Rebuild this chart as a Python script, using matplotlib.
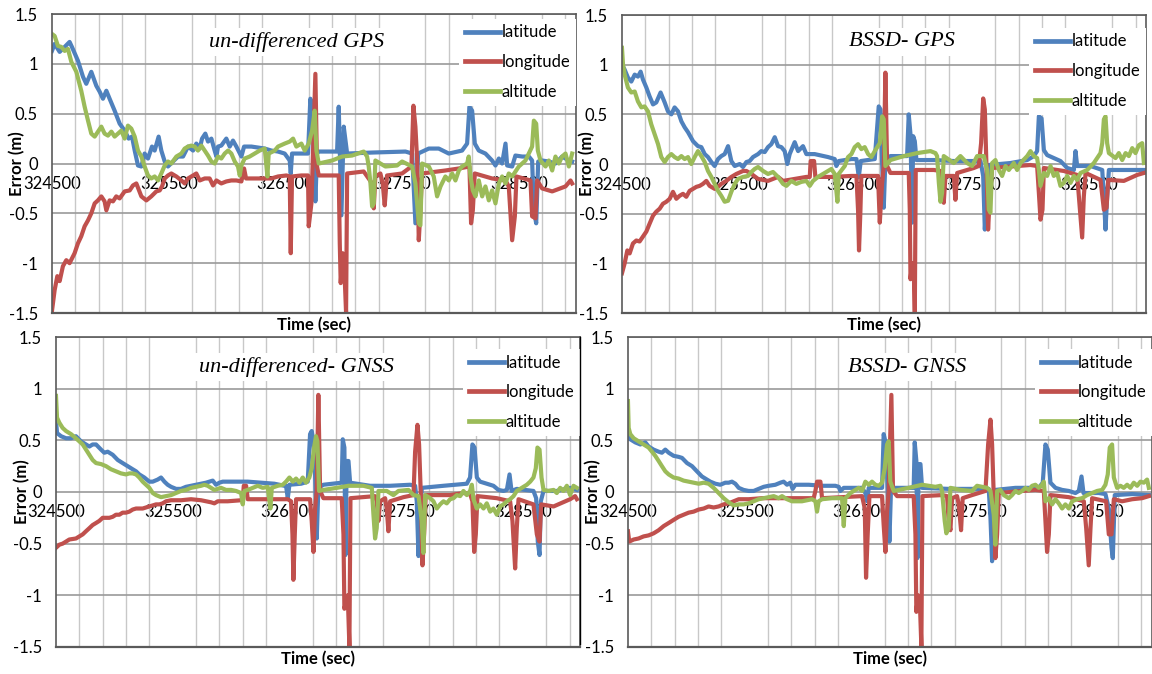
import numpy as np
import matplotlib.pyplot as plt
from matplotlib.lines import Line2D

plt.rcParams['font.family'] = ['Lato', 'DejaVu Sans']
plt.rcParams['axes.unicode_minus'] = False

# (time [s], error [m]) pairs

# un-differenced GPS
ug_lat = [(324500, 1.13), (324523, 1.20), (324566, 1.12), (324609, 1.17), (324651, 1.22), (324671, 1.17),
          (324723, 1.03), (324766, 0.87), (324794, 0.80), (324837, 0.92), (324880, 0.78), (324909, 0.72),
          (324937, 0.65), (324966, 0.73), (324994, 0.65), (325037, 0.53), (325080, 0.40), (325123, 0.33),
          (325157, 0.25), (325186, 0.27), (325209, 0.13), (325237, -0.02), (325266, -0.03), (325294, 0.10),
          (325323, 0.05), (325357, 0.17), (325380, 0.13), (325414, 0.27), (325437, 0.13), (325466, 0.02),
          (325494, -0.03), (325537, 0.02), (325580, 0.07), (325623, 0.07), (325666, 0.17), (325709, 0.13),
          (325737, 0.20), (325766, 0.15), (325786, 0.25), (325814, 0.30), (325837, 0.22), (325866, 0.25),
          (325894, 0.13), (325909, 0.07), (325923, 0.17), (325951, 0.18), (325994, 0.25), (326023, 0.17),
          (326051, 0.23), (326080, 0.17), (326123, 0.07), (326146, 0.17), (326209, 0.17), (326323, 0.15),
          (326380, 0.13), (326437, 0.12), (326494, 0.10), (326537, 0.03), (326546, -0.10), (326557, 0.10),
          (326637, 0.10), (326694, 0.10), (326714, 0.65), (326729, 0.53), (326743, 0.13), (326757, -0.38),
          (326771, 0.10), (326786, 0.12), (326943, 0.12), (326957, 0.57), (326980, -0.52), (327000, 0.37),
          (327029, 0.10), (327243, 0.11), (327529, 0.12), (327586, 0.10), (327614, -0.60), (327637, 0.10),
          (327729, 0.15), (327814, 0.15), (327900, 0.10), (328014, 0.13), (328057, 0.20), (328077, 0.57),
          (328100, 0.53), (328123, 0.20), (328157, 0.13), (328214, 0.10), (328271, 0.03), (328300, -0.02),
          (328329, 0.05), (328357, 0.00), (328386, 0.20), (328400, -0.02), (328443, -0.03), (328471, 0.08),
          (328529, 0.07), (328586, 0.07), (328614, 0.03), (328629, -0.47), (328649, -0.60), (328666, 0.02),
          (328700, 0.03), (328757, 0.02), (328814, 0.00), (328871, 0.07), (328929, 0.03), (328957, 0.02)]
ug_lon = [(324500, -1.48), (324523, -1.27), (324546, -1.13), (324566, -1.18), (324594, -1.03), (324623, -0.97),
          (324651, -1.00), (324694, -0.90), (324723, -0.80), (324751, -0.73), (324780, -0.63), (324809, -0.57),
          (324837, -0.50), (324866, -0.40), (324894, -0.37), (324923, -0.33), (324951, -0.38), (324966, -0.47),
          (324994, -0.37), (325023, -0.38), (325051, -0.33), (325080, -0.35), (325123, -0.28), (325166, -0.27),
          (325194, -0.22), (325223, -0.20), (325266, -0.33), (325309, -0.37), (325351, -0.33), (325394, -0.28),
          (325423, -0.27), (325443, -0.23), (325466, -0.15), (325494, -0.12), (325523, -0.10), (325566, -0.13),
          (325609, -0.17), (325637, -0.20), (325666, -0.15), (325709, -0.12), (325737, -0.10), (325766, -0.17),
          (325809, -0.15), (325851, -0.15), (325880, -0.22), (325909, -0.17), (325951, -0.20), (325994, -0.18),
          (326037, -0.17), (326080, -0.17), (326123, -0.18), (326146, -0.05), (326163, -0.15), (326266, -0.15),
          (326380, -0.15), (326437, -0.13), (326509, -0.12), (326537, -0.13), (326546, -0.90), (326557, -0.13),
          (326637, -0.12), (326694, -0.12), (326700, -0.63), (326723, -0.40), (326734, 0.00), (326757, 0.90),
          (326771, -0.03), (326786, -0.12), (326900, -0.12), (326957, -0.12), (326966, -0.80), (326974, -1.20),
          (326991, -0.90), (327009, -1.17), (327020, -1.50), (327029, -0.10), (327171, -0.08), (327243, -0.20),
          (327257, -0.45), (327271, -0.13), (327314, -0.10), (327334, -0.20), (327351, -0.42), (327371, -0.12),
          (327500, -0.10), (327580, -0.03), (327597, 0.58), (327614, 0.37), (327629, 0.03), (327643, -0.77),
          (327657, -0.47), (327671, -0.10), (327871, -0.07), (327986, -0.05), (328077, -0.03), (328091, -0.60),
          (328106, -0.47), (328123, -0.10), (328271, -0.15), (328386, -0.17), (328414, -0.23), (328443, -0.77),
          (328466, -0.53), (328480, -0.13), (328600, -0.17), (328614, -0.53), (328643, -0.55), (328657, -0.17),
          (328700, -0.25), (328786, -0.28), (328900, -0.23), (328943, -0.17), (328957, -0.20)]
ug_alt = [(324500, 1.30), (324523, 1.28), (324551, 1.18), (324580, 1.17), (324609, 1.13), (324637, 1.15),
          (324666, 1.02), (324709, 0.92), (324751, 0.73), (324780, 0.57), (324809, 0.43), (324837, 0.30),
          (324866, 0.27), (324894, 0.32), (324923, 0.37), (324951, 0.30), (324980, 0.28), (325009, 0.32),
          (325037, 0.27), (325066, 0.30), (325094, 0.33), (325123, 0.25), (325151, 0.38), (325180, 0.35),
          (325209, 0.27), (325237, 0.13), (325266, 0.07), (325294, -0.03), (325323, -0.12), (325351, -0.15),
          (325380, -0.13), (325409, -0.17), (325437, -0.10), (325466, -0.02), (325494, 0.02), (325523, 0.00),
          (325566, 0.07), (325609, 0.10), (325637, 0.15), (325666, 0.17), (325694, 0.18), (325723, 0.17),
          (325751, 0.13), (325780, 0.18), (325809, 0.13), (325837, 0.08), (325866, 0.02), (325894, 0.00),
          (325923, 0.07), (325951, 0.05), (325980, 0.10), (326009, 0.13), (326037, 0.10), (326066, 0.02),
          (326094, -0.03), (326109, -0.12), (326123, -0.02), (326151, 0.05), (326194, 0.07), (326237, 0.10),
          (326280, 0.13), (326323, 0.15), (326346, -0.13), (326357, 0.10), (326409, 0.13), (326437, 0.17),
          (326494, 0.20), (326537, 0.22), (326566, 0.25), (326594, 0.17), (326637, 0.20), (326666, 0.13),
          (326700, 0.20), (326729, 0.33), (326751, 0.53), (326766, 0.13), (326786, 0.00), (326900, 0.03),
          (326986, 0.07), (327071, 0.08), (327171, 0.12), (327200, 0.07), (327214, -0.03), (327229, -0.20),
          (327243, -0.43), (327257, -0.40), (327271, 0.03), (327357, -0.03), (327457, -0.02), (327500, 0.02),
          (327586, -0.03), (327614, -0.20), (327643, -0.60), (327657, -0.62), (327671, 0.00), (327729, -0.03),
          (327771, -0.13), (327800, -0.33), (327829, -0.23), (327871, -0.13), (327900, -0.17), (327929, -0.10),
          (327957, -0.17), (327986, -0.07), (328014, -0.03), (328057, 0.00), (328071, 0.07), (328086, -0.13),
          (328106, -0.27), (328129, -0.33), (328157, -0.17), (328186, -0.33), (328214, -0.23), (328243, -0.37),
          (328271, -0.27), (328300, -0.40), (328329, -0.20), (328357, -0.13), (328386, -0.20), (328414, -0.10),
          (328443, -0.13), (328500, -0.03), (328557, 0.03), (328614, 0.17), (328629, 0.43), (328649, 0.40),
          (328663, 0.13), (328686, 0.03), (328729, -0.03), (328757, 0.03), (328786, -0.07), (328814, 0.07),
          (328843, 0.00), (328871, 0.07), (328900, 0.10), (328929, -0.03), (328957, 0.10)]

# BSSD- GPS
bg_lat = [(324500, 1.00), (324523, 0.95), (324551, 0.87), (324580, 0.83), (324609, 0.90), (324637, 0.88),
          (324660, 0.93), (324680, 0.85), (324709, 0.77), (324737, 0.68), (324766, 0.60), (324794, 0.62),
          (324831, 0.72), (324866, 0.62), (324894, 0.53), (324923, 0.50), (324951, 0.57), (324980, 0.53),
          (325009, 0.43), (325037, 0.37), (325066, 0.32), (325109, 0.23), (325151, 0.18), (325180, 0.17),
          (325209, 0.10), (325237, 0.07), (325266, 0.02), (325294, -0.02), (325323, 0.05), (325351, 0.08),
          (325380, 0.10), (325409, 0.18), (325437, 0.03), (325466, -0.02), (325509, 0.00), (325537, -0.03),
          (325566, 0.02), (325594, 0.03), (325623, 0.07), (325666, 0.10), (325694, 0.13), (325723, 0.12),
          (325751, 0.17), (325780, 0.20), (325809, 0.27), (325837, 0.18), (325866, 0.17), (325894, 0.13),
          (325917, 0.00), (325937, 0.10), (325980, 0.22), (326009, 0.13), (326051, 0.18), (326080, 0.10),
          (326151, 0.10), (326266, 0.07), (326323, 0.05), (326337, -0.02), (326357, 0.03), (326466, 0.05),
          (326509, 0.05), (326529, -0.13), (326546, 0.03), (326666, 0.05), (326700, 0.58), (326715, 0.55),
          (326729, 0.01), (326743, -0.44), (326757, 0.04), (326800, 0.08), (326943, 0.08), (326957, 0.50),
          (326972, 0.30), (326986, -0.59), (326995, 0.28), (327009, 0.23), (327023, 0.04), (327172, 0.04),
          (327343, 0.03), (327572, 0.03), (327595, -0.12), (327609, -0.66), (327629, -0.26), (327643, -0.01),
          (327829, 0.01), (327972, 0.04), (328029, 0.08), (328057, 0.13), (328072, 0.48), (328095, 0.46),
          (328115, 0.14), (328143, 0.09), (328200, 0.06), (328257, 0.03), (328315, -0.04), (328372, -0.06),
          (328386, 0.13), (328400, -0.02), (328515, -0.02), (328615, -0.06), (328629, -0.33), (328643, -0.66),
          (328657, -0.33), (328672, -0.06), (328829, -0.06), (328972, -0.06)]
bg_lon = [(324500, -1.10), (324523, -1.00), (324546, -0.87), (324566, -0.90), (324594, -0.80), (324623, -0.77),
          (324651, -0.78), (324680, -0.73), (324709, -0.68), (324737, -0.60), (324766, -0.52), (324794, -0.48),
          (324823, -0.45), (324851, -0.40), (324880, -0.38), (324909, -0.35), (324937, -0.28), (324966, -0.35),
          (324994, -0.32), (325023, -0.30), (325051, -0.33), (325080, -0.27), (325109, -0.25), (325137, -0.23),
          (325166, -0.22), (325194, -0.20), (325223, -0.17), (325251, -0.22), (325294, -0.25), (325323, -0.23),
          (325351, -0.20), (325394, -0.17), (325437, -0.13), (325480, -0.10), (325537, -0.07), (325566, -0.07),
          (325609, -0.10), (325666, -0.15), (325751, -0.17), (325837, -0.13), (325880, -0.17), (325980, -0.15),
          (326080, -0.13), (326109, -0.13), (326117, 0.03), (326146, 0.03), (326157, -0.13), (326294, -0.13),
          (326466, -0.12), (326509, -0.12), (326523, -0.47), (326531, -0.87), (326543, -0.47), (326551, -0.12),
          (326694, -0.12), (326709, -0.59), (326729, -0.19), (326743, -0.02), (326757, 0.92), (326772, -0.02),
          (326800, -0.09), (326957, -0.09), (326966, -0.46), (326972, -1.16), (326986, -1.00), (327000, -1.06),
          (327009, -1.50), (327017, -0.06), (327172, -0.06), (327229, -0.07), (327243, -0.33), (327257, -0.39),
          (327272, -0.12), (327343, -0.12), (327357, -0.36), (327372, -0.09), (327515, -0.04), (327557, -0.02),
          (327577, 0.21), (327595, 0.66), (327609, 0.55), (327623, -0.02), (327637, -0.66), (327652, -0.33),
          (327672, -0.04), (327886, -0.02), (328000, -0.01), (328057, -0.02), (328072, -0.29), (328086, -0.56),
          (328103, -0.46), (328115, -0.04), (328286, -0.07), (328400, -0.11), (328415, -0.33), (328443, -0.74),
          (328457, -0.33), (328472, -0.09), (328600, -0.16), (328629, -0.46), (328652, -0.44), (328666, -0.16),
          (328800, -0.17), (328914, -0.11), (328972, -0.09)]
bg_alt = [(324500, 1.17), (324509, 1.00), (324523, 0.90), (324551, 0.77), (324580, 0.72), (324609, 0.73),
          (324637, 0.63), (324666, 0.57), (324694, 0.58), (324723, 0.53), (324751, 0.40), (324780, 0.30),
          (324809, 0.20), (324837, 0.07), (324866, 0.02), (324894, 0.07), (324923, 0.10), (324951, 0.07),
          (324980, 0.05), (325009, 0.08), (325037, 0.05), (325066, 0.07), (325094, 0.00), (325123, 0.07),
          (325151, 0.13), (325180, 0.08), (325209, 0.02), (325237, -0.07), (325266, -0.13), (325294, -0.20),
          (325323, -0.27), (325351, -0.32), (325380, -0.38), (325409, -0.37), (325437, -0.28), (325466, -0.20),
          (325494, -0.15), (325537, -0.13), (325580, -0.12), (325609, -0.08), (325637, -0.05), (325666, -0.03),
          (325709, -0.07), (325751, -0.10), (325794, -0.08), (325837, -0.13), (325880, -0.20), (325909, -0.22),
          (325951, -0.17), (325994, -0.20), (326037, -0.18), (326080, -0.17), (326109, -0.22), (326137, -0.17),
          (326180, -0.13), (326223, -0.10), (326266, -0.07), (326294, -0.05), (326323, -0.10), (326346, -0.38),
          (326357, -0.10), (326409, -0.02), (326437, 0.07), (326466, 0.10), (326494, 0.17), (326523, 0.20),
          (326551, 0.15), (326580, 0.17), (326609, 0.10), (326637, 0.07), (326666, 0.13), (326709, 0.21),
          (326729, 0.48), (326743, 0.45), (326757, -0.02), (326800, 0.04), (326915, 0.08), (327029, 0.11),
          (327143, 0.13), (327186, 0.11), (327200, 0.08), (327215, -0.19), (327229, -0.38), (327243, -0.29),
          (327257, 0.08), (327343, 0.01), (327400, 0.08), (327457, 0.01), (327500, -0.02), (327543, 0.08),
          (327600, 0.08), (327629, -0.06), (327643, -0.46), (327657, -0.49), (327672, 0.01), (327700, 0.04),
          (327729, -0.06), (327757, -0.12), (327786, -0.02), (327815, -0.06), (327857, 0.01), (327886, -0.06),
          (327915, 0.01), (327972, 0.08), (328000, 0.13), (328029, 0.08), (328057, 0.06), (328072, -0.06),
          (328086, -0.22), (328115, -0.09), (328143, -0.12), (328172, -0.02), (328200, -0.12), (328229, -0.09),
          (328257, -0.22), (328286, -0.19), (328315, -0.12), (328343, -0.19), (328372, -0.12), (328400, -0.16),
          (328429, -0.09), (328486, -0.06), (328543, 0.01), (328600, 0.11), (328615, 0.21), (328629, 0.45),
          (328643, 0.48), (328657, 0.21), (328672, 0.11), (328729, 0.06), (328757, 0.11), (328786, 0.04),
          (328815, 0.11), (328843, 0.08), (328872, 0.16), (328900, 0.11), (328929, 0.19), (328957, 0.21),
          (328972, 0.01)]

# un-differenced- GNSS
un_lat = [(324500, 0.69), (324509, 0.57), (324543, 0.54), (324586, 0.52), (324629, 0.52), (324671, 0.54),
          (324714, 0.49), (324757, 0.46), (324786, 0.44), (324814, 0.46), (324843, 0.46), (324886, 0.41),
          (324914, 0.38), (324943, 0.39), (324986, 0.36), (325029, 0.31), (325071, 0.28), (325114, 0.25),
          (325157, 0.22), (325186, 0.20), (325214, 0.17), (325257, 0.14), (325300, 0.10), (325329, 0.10),
          (325371, 0.12), (325400, 0.14), (325429, 0.10), (325457, 0.07), (325486, 0.05), (325529, 0.03),
          (325571, 0.03), (325614, 0.05), (325657, 0.06), (325700, 0.07), (325743, 0.08), (325786, 0.09),
          (325814, 0.10), (325843, 0.11), (325871, 0.07), (325900, 0.09), (325929, 0.10), (326029, 0.10),
          (326143, 0.10), (326257, 0.09), (326371, 0.08), (326457, 0.06), (326471, 0.06), (326486, -0.06),
          (326500, 0.07), (326600, 0.08), (326657, 0.10), (326677, 0.56), (326691, 0.59), (326706, 0.49),
          (326720, 0.17), (326734, -0.45), (326748, 0.04), (326791, 0.07), (326948, 0.09), (326957, 0.51),
          (326971, 0.43), (326980, -0.61), (326991, 0.30), (327006, 0.30), (327020, 0.09), (327191, 0.06),
          (327363, 0.06), (327534, 0.07), (327577, 0.06), (327591, -0.09), (327606, -0.62), (327620, -0.28),
          (327634, 0.04), (327820, 0.06), (328020, 0.08), (328048, 0.14), (328068, 0.46), (328086, 0.43),
          (328106, 0.14), (328134, 0.10), (328191, 0.08), (328248, 0.06), (328291, 0.02), (328334, 0.01),
          (328363, 0.02), (328386, 0.17), (328403, 0.01), (328448, 0.03), (328591, 0.01), (328614, -0.06),
          (328628, -0.48), (328643, -0.61), (328654, -0.09), (328677, 0.01), (328791, 0.01), (328905, 0.04),
          (328963, 0.02)]
un_lon = [(324500, -0.54), (324529, -0.51), (324557, -0.50), (324586, -0.48), (324614, -0.46), (324671, -0.45),
          (324700, -0.43), (324729, -0.41), (324757, -0.38), (324786, -0.35), (324814, -0.32), (324843, -0.30),
          (324871, -0.28), (324900, -0.25), (324929, -0.25), (324957, -0.25), (324986, -0.24), (325014, -0.22),
          (325043, -0.22), (325071, -0.20), (325100, -0.20), (325129, -0.19), (325157, -0.17), (325186, -0.16),
          (325214, -0.16), (325243, -0.16), (325271, -0.15), (325300, -0.14), (325329, -0.13), (325357, -0.12),
          (325386, -0.12), (325414, -0.11), (325443, -0.09), (325486, -0.08), (325571, -0.08), (325657, -0.07),
          (325743, -0.08), (325829, -0.10), (325857, -0.11), (325886, -0.09), (325971, -0.09), (326086, -0.08),
          (326100, -0.08), (326109, 0.06), (326129, 0.06), (326143, -0.07), (326314, -0.07), (326486, -0.07),
          (326514, -0.09), (326526, -0.41), (326534, -0.85), (326546, -0.41), (326557, -0.07), (326677, -0.07),
          (326691, -0.28), (326706, -0.58), (326720, -0.16), (326734, 0.01), (326748, 0.94), (326763, 0.01),
          (326791, -0.06), (326948, -0.06), (326963, -0.41), (326971, -1.13), (326986, -1.06), (327000, -1.00),
          (327014, -1.50), (327023, -0.06), (327234, -0.04), (327248, -0.09), (327263, -0.28), (327277, -0.09),
          (327320, -0.06), (327334, -0.16), (327348, -0.38), (327363, -0.09), (327477, -0.05), (327563, -0.03),
          (327577, 0.39), (327597, 0.65), (327611, 0.46), (327626, -0.03), (327640, -0.71), (327654, -0.41),
          (327668, -0.03), (327877, -0.03), (327991, -0.01), (328048, -0.02), (328068, -0.09), (328083, -0.58),
          (328097, -0.41), (328111, -0.04), (328277, -0.06), (328391, -0.09), (328411, -0.28), (328434, -0.74),
          (328448, -0.35), (328463, -0.07), (328591, -0.12), (328620, -0.41), (328643, -0.48), (328657, -0.12),
          (328763, -0.14), (328905, -0.07), (328948, -0.04), (328963, -0.07)]
un_alt = [(324500, 0.93), (324509, 0.72), (324529, 0.67), (324557, 0.62), (324586, 0.59), (324629, 0.56),
          (324671, 0.52), (324700, 0.49), (324729, 0.46), (324757, 0.41), (324786, 0.36), (324814, 0.31),
          (324843, 0.28), (324886, 0.27), (324929, 0.25), (324971, 0.22), (325014, 0.20), (325057, 0.18),
          (325100, 0.17), (325129, 0.18), (325157, 0.18), (325186, 0.17), (325214, 0.14), (325243, 0.10),
          (325271, 0.07), (325300, 0.04), (325329, -0.01), (325357, -0.03), (325400, -0.05), (325443, -0.04),
          (325486, -0.03), (325529, -0.01), (325571, 0.01), (325614, 0.02), (325657, 0.04), (325700, 0.05),
          (325743, 0.06), (325771, 0.07), (325800, 0.06), (325829, 0.04), (325857, 0.02), (325914, 0.04),
          (325957, 0.02), (326000, 0.02), (326043, 0.01), (326086, -0.01), (326100, -0.12), (326114, 0.01),
          (326143, 0.02), (326186, 0.04), (326229, 0.06), (326271, 0.04), (326314, 0.05), (326337, -0.16),
          (326349, 0.04), (326400, 0.06), (326443, 0.07), (326471, 0.10), (326500, 0.14), (326529, 0.10),
          (326557, 0.13), (326586, 0.09), (326614, 0.14), (326643, 0.09), (326671, 0.14), (326691, 0.23),
          (326711, 0.43), (326728, 0.54), (326740, 0.49), (326754, 0.01), (326791, 0.02), (326905, 0.04),
          (327006, 0.06), (327134, 0.06), (327206, 0.04), (327220, -0.22), (327234, -0.45), (327248, -0.35),
          (327263, 0.01), (327334, 0.01), (327391, -0.03), (327434, 0.01), (327520, 0.02), (327563, -0.03),
          (327606, -0.04), (327634, -0.28), (327648, -0.59), (327663, -0.03), (327706, -0.06), (327734, -0.09),
          (327763, -0.16), (327791, -0.12), (327820, -0.09), (327848, -0.11), (327877, -0.07), (327906, -0.06),
          (327934, -0.03), (327963, -0.04), (327991, 0.01), (328020, -0.03), (328048, 0.01), (328063, 0.07),
          (328077, -0.07), (328106, -0.16), (328134, -0.12), (328163, -0.16), (328191, -0.11), (328220, -0.19),
          (328248, -0.16), (328277, -0.22), (328306, -0.14), (328334, -0.12), (328363, -0.09), (328391, -0.07),
          (328420, -0.04), (328448, 0.01), (328491, 0.04), (328534, 0.07), (328563, 0.10), (328591, 0.14),
          (328611, 0.23), (328625, 0.43), (328643, 0.41), (328660, 0.14), (328677, 0.02), (328720, 0.01),
          (328763, 0.02), (328791, -0.01), (328820, 0.04), (328848, 0.01), (328877, 0.06), (328905, -0.03),
          (328934, 0.06), (328963, 0.04)]

# BSSD- GNSS
bn_lat = [(324500, 0.59), (324520, 0.51), (324563, 0.48), (324606, 0.46), (324649, 0.48), (324677, 0.44),
          (324720, 0.41), (324763, 0.39), (324791, 0.38), (324820, 0.41), (324849, 0.38), (324891, 0.35),
          (324934, 0.34), (324963, 0.33), (325006, 0.28), (325049, 0.25), (325091, 0.20), (325134, 0.15),
          (325177, 0.12), (325206, 0.10), (325249, 0.08), (325291, 0.07), (325334, 0.09), (325363, 0.09),
          (325391, 0.10), (325420, 0.08), (325449, 0.04), (325491, 0.02), (325534, 0.01), (325577, 0.01),
          (325620, 0.03), (325663, 0.05), (325706, 0.06), (325763, 0.07), (325806, 0.09), (325834, 0.10),
          (325863, 0.07), (325891, 0.09), (325911, 0.03), (325934, 0.07), (326049, 0.07), (326163, 0.06),
          (326277, 0.06), (326306, 0.05), (326320, 0.01), (326349, 0.04), (326506, 0.04), (326534, -0.01),
          (326549, -0.09), (326563, 0.04), (326677, 0.04), (326691, 0.56), (326711, 0.46), (326726, 0.01),
          (326740, -0.48), (326754, 0.04), (326948, 0.04), (326957, 0.48), (326971, 0.30), (326980, -0.64),
          (326991, 0.27), (327006, 0.27), (327020, 0.04), (327248, 0.03), (327591, 0.03), (327606, -0.25),
          (327620, -0.67), (327634, -0.28), (327648, 0.02), (327820, 0.04), (328020, 0.04), (328054, 0.09),
          (328077, 0.46), (328097, 0.41), (328120, 0.09), (328163, 0.04), (328220, 0.02), (328277, 0.01),
          (328334, -0.01), (328363, 0.01), (328386, 0.15), (328403, -0.01), (328534, -0.01), (328591, -0.02),
          (328620, -0.16), (328643, -0.54), (328654, -0.64), (328671, -0.03), (328820, -0.02), (328963, -0.03)]
bn_lon = [(324500, -0.38), (324511, -0.48), (324549, -0.46), (324591, -0.45), (324634, -0.43), (324677, -0.42),
          (324720, -0.40), (324763, -0.37), (324806, -0.33), (324849, -0.30), (324891, -0.27), (324934, -0.24),
          (324977, -0.22), (325020, -0.20), (325063, -0.19), (325106, -0.17), (325149, -0.16), (325191, -0.14),
          (325234, -0.15), (325277, -0.14), (325320, -0.12), (325363, -0.11), (325406, -0.09), (325449, -0.07),
          (325534, -0.07), (325649, -0.06), (325763, -0.06), (325877, -0.06), (325991, -0.06), (326091, -0.06),
          (326106, 0.01), (326120, 0.10), (326149, 0.10), (326163, -0.06), (326334, -0.05), (326506, -0.04),
          (326529, -0.16), (326540, -0.83), (326554, -0.41), (326569, -0.04), (326677, -0.04), (326691, -0.32),
          (326706, -0.58), (326720, -0.19), (326734, 0.01), (326757, 0.94), (326771, 0.01), (326806, -0.04),
          (326948, -0.04), (326963, -0.41), (326971, -1.16), (326986, -1.00), (327000, -1.03), (327014, -1.50),
          (327023, -0.04), (327191, -0.03), (327234, -0.04), (327248, -0.28), (327263, -0.37), (327277, -0.06),
          (327320, -0.04), (327334, -0.12), (327354, -0.37), (327368, -0.06), (327448, -0.03), (327563, 0.01),
          (327586, 0.46), (327606, 0.70), (327620, 0.46), (327634, -0.03), (327648, -0.64), (327663, -0.41),
          (327677, -0.01), (327877, 0.01), (327991, 0.02), (328063, 0.01), (328077, -0.28), (328091, -0.58),
          (328106, -0.41), (328120, -0.03), (328277, -0.05), (328406, -0.09), (328426, -0.35), (328448, -0.71),
          (328463, -0.35), (328477, -0.06), (328597, -0.09), (328620, -0.41), (328643, -0.41), (328663, -0.07),
          (328734, -0.09), (328820, -0.07), (328905, -0.06), (328963, -0.04)]
bn_alt = [(324500, 0.88), (324506, 0.62), (324520, 0.56), (324549, 0.52), (324591, 0.49), (324634, 0.46),
          (324677, 0.43), (324706, 0.39), (324734, 0.35), (324763, 0.30), (324791, 0.25), (324820, 0.20),
          (324849, 0.17), (324891, 0.14), (324934, 0.13), (324977, 0.11), (325020, 0.10), (325063, 0.09),
          (325106, 0.08), (325149, 0.09), (325191, 0.08), (325234, 0.04), (325277, -0.01), (325320, -0.06),
          (325363, -0.10), (325406, -0.13), (325449, -0.12), (325491, -0.12), (325534, -0.11), (325577, -0.09),
          (325620, -0.07), (325663, -0.06), (325706, -0.05), (325749, -0.04), (325791, -0.06), (325820, -0.04),
          (325863, -0.07), (325906, -0.09), (325991, -0.09), (326077, -0.07), (326106, -0.09), (326120, -0.19),
          (326134, -0.09), (326163, -0.07), (326249, -0.06), (326334, -0.06), (326349, -0.33), (326363, -0.06),
          (326406, -0.01), (326449, 0.02), (326477, 0.04), (326506, 0.01), (326534, 0.10), (326563, 0.07),
          (326591, 0.10), (326620, 0.07), (326649, 0.06), (326677, 0.09), (326700, 0.23), (326720, 0.46),
          (326734, 0.49), (326748, 0.10), (326777, 0.01), (326906, 0.04), (327020, 0.07), (327134, 0.05),
          (327177, 0.06), (327191, 0.01), (327214, -0.28), (327228, -0.40), (327248, -0.35), (327263, 0.04),
          (327348, 0.02), (327448, 0.01), (327491, 0.06), (327577, 0.04), (327606, 0.01), (327634, -0.22),
          (327648, -0.51), (327663, 0.01), (327691, 0.02), (327720, -0.03), (327763, -0.06), (327791, -0.03),
          (327820, 0.01), (327848, -0.01), (327877, 0.01), (327906, 0.04), (327934, 0.02), (327963, 0.06),
          (327991, 0.07), (328020, 0.04), (328048, 0.07), (328063, 0.10), (328077, -0.09), (328106, -0.06),
          (328134, -0.12), (328163, -0.07), (328191, -0.11), (328220, -0.16), (328248, -0.12), (328277, -0.16),
          (328306, -0.09), (328348, -0.07), (328391, -0.06), (328434, -0.03), (328477, -0.01), (328520, 0.01),
          (328563, 0.02), (328591, 0.07), (328611, 0.17), (328628, 0.43), (328648, 0.46), (328663, 0.14),
          (328691, 0.04), (328720, 0.06), (328748, 0.04), (328777, 0.07), (328805, 0.04), (328834, 0.09),
          (328863, 0.06), (328891, 0.10), (328920, 0.09), (328948, 0.12), (328963, 0.04)]

titles = ['un-differenced GPS', 'BSSD- GPS', 'un-differenced- GNSS', 'BSSD- GNSS']
series_names = ['latitude', 'longitude', 'altitude']
colors = ['#4f81bd', '#c0504d', '#9bbb59']
x_ticks = [324500, 325500, 326500, 327500, 328500]
y_ticks = [-1.5, -1, -0.5, 0, 0.5, 1, 1.5]

panels = [
    # axes rect, title pos, legend top, data
    ([0.0451, 0.5356, 0.4549, 0.4436], (0.467, 0.906), 0.985, [ug_lat, ug_lon, ug_alt]),
    ([0.5399, 0.5356, 0.4549, 0.4421], (0.534, 0.910), 0.958, [bg_lat, bg_lon, bg_alt]),
    ([0.0486, 0.0401, 0.4549, 0.4599], (0.458, 0.903), 0.962, [un_lat, un_lon, un_alt]),
    ([0.5451, 0.0401, 0.4549, 0.4599], (0.532, 0.903), 0.962, [bn_lat, bn_lon, bn_alt]),
]

fig = plt.figure(figsize=(11.52, 6.74), dpi=100)
frame_col = '#5a5a5a'

for (rect, tpos, leg_y, data), title in zip(panels, titles):
    ax = fig.add_axes(rect)
    for pts, name, col in zip(data, series_names, colors):
        t, v = zip(*pts)
        ax.plot(t, v, color=col, lw=3.0, label=name, solid_joinstyle='round')

    ax.set_xlim(324500, 328990)
    ax.set_ylim(-1.5, 1.5)
    ax.set_xticks(x_ticks)
    ax.set_xticklabels([str(x) for x in x_ticks])
    ax.set_xticks(np.arange(324500, 329000, 200), minor=True)
    ax.set_yticks(y_ticks)
    ax.set_yticklabels(['%g' % y for y in y_ticks])
    ax.grid(axis='x', which='minor', color='#c8c8c8', lw=1.0)
    ax.grid(axis='y', which='major', color='#9a9a9a', lw=1.2)
    ax.tick_params(which='both', length=0)
    ax.tick_params(axis='x', pad=9, labelsize=12)
    ax.tick_params(axis='y', pad=10, labelsize=12)

    # x axis crosses at zero, box kept round the plot area
    ax.spines['bottom'].set_position(('data', 0))
    ax.spines['bottom'].set_visible(False)
    for s in ['top', 'left', 'right']:
        ax.spines[s].set_color(frame_col)
        ax.spines[s].set_linewidth(1.2)
    ax.axhline(-1.5, color=frame_col, lw=1.6, clip_on=False, zorder=3)

    ax.set_ylabel('Error (m)', fontweight='bold', fontsize=12)
    ax.yaxis.set_label_coords(-0.05, 0.5)
    ax.set_xlabel('Time (sec)', fontweight='bold', fontsize=12)
    ax.xaxis.set_label_coords(0.5, -0.012)

    ax.text(tpos[0], tpos[1], title, transform=ax.transAxes, ha='center', va='center',
            fontsize=16, family='Liberation Serif', style='italic', zorder=6,
            bbox=dict(facecolor='white', edgecolor='none', pad=3))

    leg = ax.legend(loc='upper right', bbox_to_anchor=(1.0, leg_y), frameon=True, fancybox=False,
                    edgecolor='none', facecolor='white', framealpha=1, fontsize=12,
                    handlelength=2.1, handletextpad=0.1, labelspacing=0.82,
                    borderpad=0.35, borderaxespad=0)
    for ln in leg.get_lines():
        ln.set_linewidth(3.4)

# separator between the two lower charts
fig.add_artist(Line2D([0.5035, 0.5035], [0.045, 0.5], color='black', lw=1.0,
                      transform=fig.transFigure))

fig.savefig('out.png', dpi=100)
